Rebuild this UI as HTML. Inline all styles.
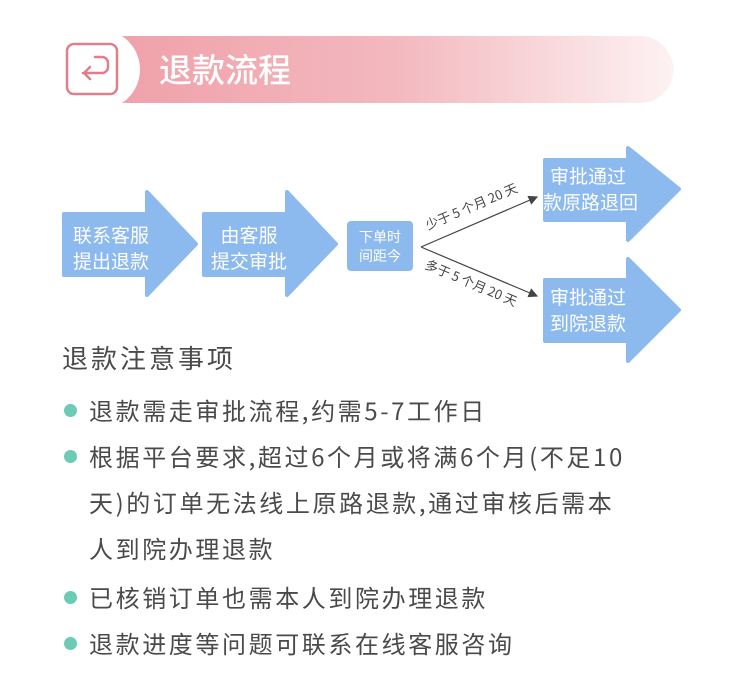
<!DOCTYPE html>
<html><head><meta charset="utf-8"><style>
body{margin:0;width:730px;height:679px;background:#fff;position:relative;overflow:hidden;font-family:"Noto Sans CJK SC","Liberation Sans",sans-serif}
.t{position:absolute;white-space:nowrap}
.b{position:absolute;left:89px;font-size:24px;line-height:32px;color:#4a4a4a;white-space:nowrap;letter-spacing:2.6px}
.d{position:absolute;left:64px;width:13px;height:13px;border-radius:50%;background:#6ccbb5}
</style></head><body>
<svg width="730" height="679" style="position:absolute;left:0;top:0">
<defs><linearGradient id="g" x1="0" x2="1"><stop offset="0" stop-color="#f0a1aa"/><stop offset="0.5" stop-color="#f3b8be"/><stop offset="1" stop-color="#fdf2f3"/></linearGradient>
<marker id="m" markerWidth="8" markerHeight="8" refX="7" refY="4" orient="auto"><path d="M0,0 L8,4 L0,8z" fill="#444"/></marker></defs>
<path d="M115,36 H640 A33,33 0 0 1 640,103 H115 Z" fill="url(#g)"/>
<ellipse cx="100" cy="69.5" rx="40" ry="40" fill="#fff"/>
<rect x="67" y="44" width="50" height="50" rx="7" fill="#fff" stroke="#e07f8c" stroke-width="2.5"/>
<path d="M95,57 h7 a6,6 0 0 1 6,6 v4 a6,6 0 0 1 -6,6 h-19 M90,67 l-6,6 l6,6" fill="none" stroke="#e07f8c" stroke-width="2.5" stroke-linecap="round" stroke-linejoin="round"/>
<g fill="#8cb9ee" stroke="#8cb9ee" stroke-width="4" stroke-linejoin="round">
<path d="M64,214 H147 V192 L196,244 L147,295 V275 H64 Z"/>
<path d="M204,214 H287 V192 L336,244 L287,295 V275 H204 Z"/>
<rect x="349" y="223" width="62" height="46" rx="2"/>
<path d="M545,160 H628 V148 L679,189 L628,240 V220 H545 Z"/>
<path d="M545,280 H628 V259 L679,310 L628,361 V341 H545 Z"/>
</g>
<line x1="421" y1="247" x2="537" y2="197" stroke="#444" stroke-width="1.2" marker-end="url(#m)"/>
<line x1="421" y1="247" x2="537" y2="296" stroke="#444" stroke-width="1.2" marker-end="url(#m)"/>
<text x="428" y="230" font-size="13" fill="#444" transform="rotate(-23 428 230)" font-family="Noto Sans CJK SC,Liberation Sans,sans-serif">少于 5 个月 20 天</text>
<text x="424" y="268" font-size="13" fill="#444" transform="rotate(23 424 268)" font-family="Noto Sans CJK SC,Liberation Sans,sans-serif">多于 5 个月 20 天</text>
</svg>
<div class="t" style="left:159px;top:46px;font-size:33px;line-height:44px;color:#fff;font-weight:500">退款流程</div>
<div class="t" style="left:66px;top:222px;font-size:19px;line-height:26px;color:#fff;text-align:center;width:90px">联系客服<br>提出退款</div>
<div class="t" style="left:204px;top:222px;font-size:19px;line-height:26px;color:#fff;text-align:center;width:90px">由客服<br>提交审批</div>
<div class="t" style="left:349px;top:228px;font-size:14px;line-height:19px;color:#fff;text-align:center;width:62px">下单时<br>间距今</div>
<div class="t" style="left:543px;top:163px;font-size:19px;line-height:26px;color:#fff;text-align:center;width:90px">审批通过<br>款原路退回</div>
<div class="t" style="left:543px;top:284px;font-size:19px;line-height:26px;color:#fff;text-align:center;width:90px">审批通过<br>到院退款</div>
<div class="t" style="left:62px;top:340px;font-size:26px;line-height:36px;letter-spacing:3px;color:#4a4a4a">退款注意事项</div>
<div class="d" style="top:404px"></div><div class="b" style="top:394px">退款需走审批流程,约需5-7工作日</div>
<div class="d" style="top:450px"></div><div class="b" style="top:440px">根据平台要求,超过6个月或将满6个月(不足10</div>
<div class="b" style="top:486px">天)的订单无法线上原路退款,通过审核后需本</div>
<div class="b" style="top:532px">人到院办理退款</div>
<div class="d" style="top:591px"></div><div class="b" style="top:581px">已核销订单也需本人到院办理退款</div>
<div class="d" style="top:637px"></div><div class="b" style="top:627px">退款进度等问题可联系在线客服咨询</div>
</body></html>
